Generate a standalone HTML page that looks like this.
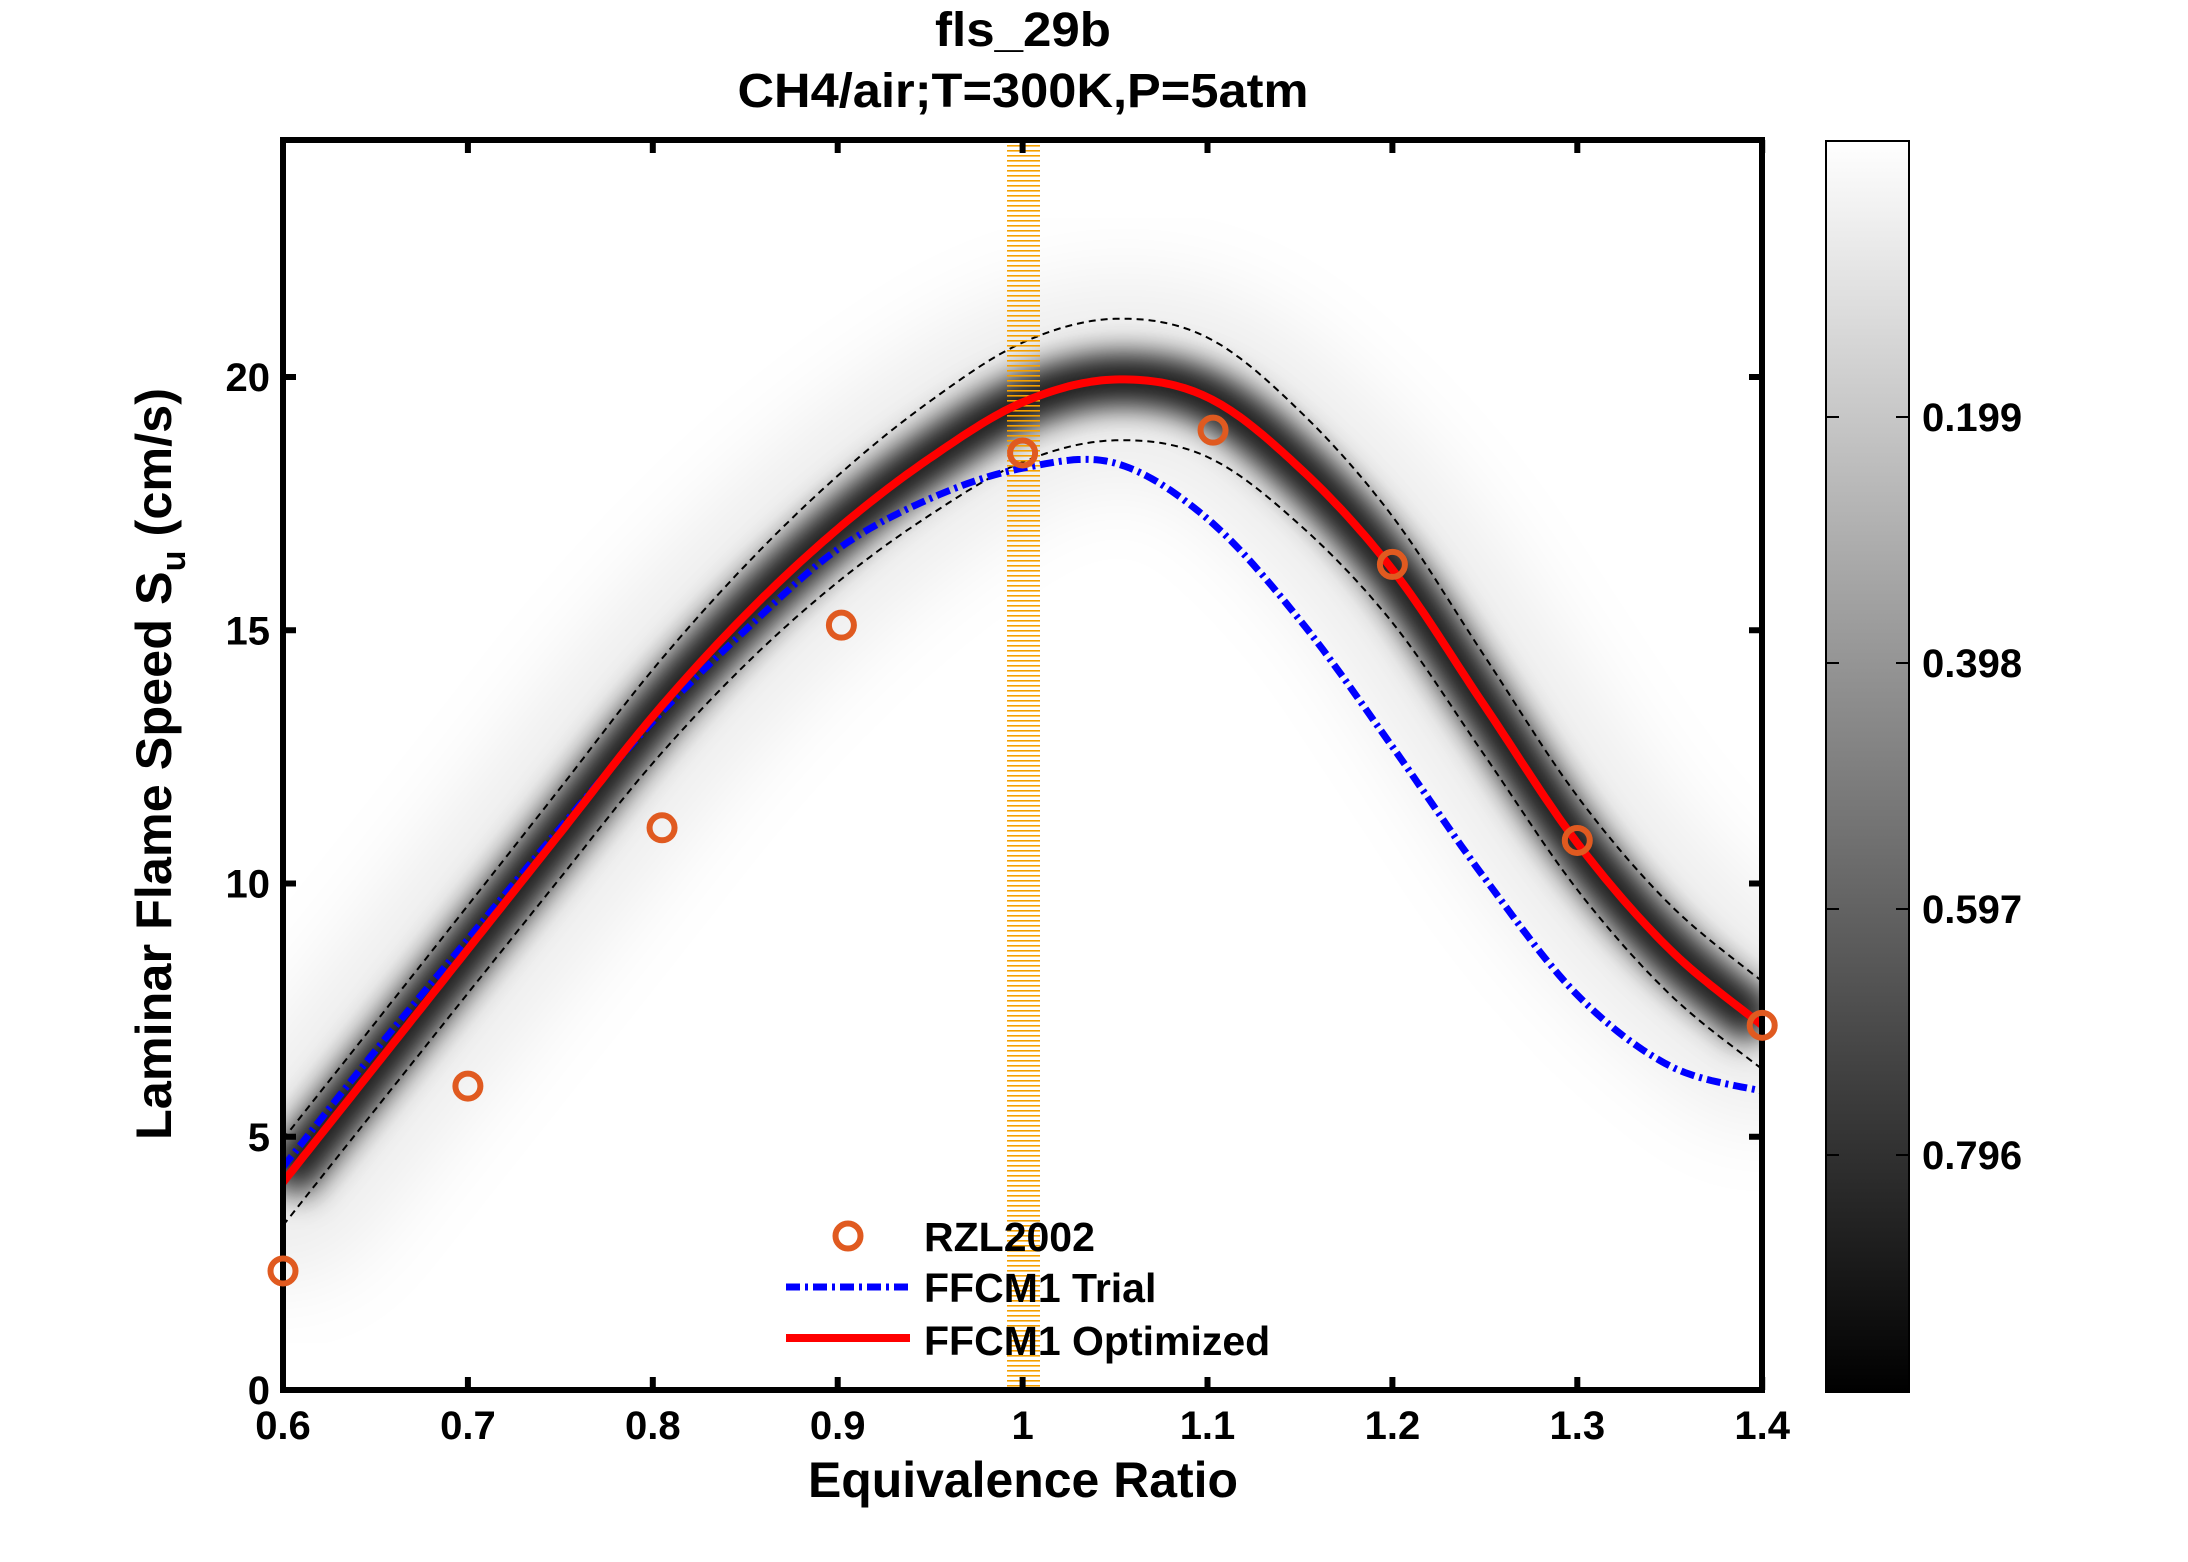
<!DOCTYPE html>
<html><head><meta charset="utf-8"><style>
html,body{margin:0;padding:0;background:#fff}
svg{display:block}
text{font-family:"Liberation Sans",Arial,sans-serif;font-weight:bold;fill:#000}
</style></head><body>
<svg id="s" width="2188" height="1562" viewBox="0 0 2188 1562" xmlns="http://www.w3.org/2000/svg">
<defs>
<clipPath id="ax"><rect x="283" y="140" width="1479" height="1250"/></clipPath>
<filter id="b1" x="-20%" y="-20%" width="140%" height="140%"><feGaussianBlur stdDeviation="16"/></filter>
<filter id="b2" x="-20%" y="-20%" width="140%" height="140%"><feGaussianBlur stdDeviation="40"/></filter>
<linearGradient id="cb" x1="0" y1="0" x2="0" y2="1"><stop offset="0" stop-color="#fff"/><stop offset="1" stop-color="#000"/></linearGradient>
<pattern id="stripe" width="10" height="5" patternUnits="userSpaceOnUse"><rect width="10" height="1.6" fill="#f5a000"/></pattern>
</defs>
<rect width="2188" height="1562" fill="#fff"/>
<g clip-path="url(#ax)" id="plot"></g>
<text x="1023" y="46" font-size="48" text-anchor="middle" textLength="176" lengthAdjust="spacingAndGlyphs">fls_29b</text>
<text x="1023" y="107" font-size="48" text-anchor="middle" textLength="571" lengthAdjust="spacingAndGlyphs">CH4/air;T=300K,P=5atm</text>
<g id="axes"></g>
<text x="1023" y="1497" font-size="50" text-anchor="middle" textLength="430" lengthAdjust="spacingAndGlyphs">Equivalence Ratio</text>
<text transform="translate(171,764) rotate(-90)" font-size="50" text-anchor="middle" textLength="752" lengthAdjust="spacingAndGlyphs">Laminar Flame Speed S<tspan font-size="34" dy="14">u</tspan><tspan dy="-14"> (cm/s)</tspan></text>
<!-- legend -->
<circle cx="848" cy="1236" r="12.5" fill="none" stroke="#e05a20" stroke-width="6"/>
<text x="924" y="1251" font-size="41">RZL2002</text>
<line x1="786" y1="1287" x2="910" y2="1287" stroke="#0000ff" stroke-width="7" stroke-dasharray="14,5,3,5"/>
<text x="924" y="1302" font-size="41">FFCM1 Trial</text>
<line x1="786" y1="1338" x2="910" y2="1338" stroke="#ff0000" stroke-width="8"/>
<text x="924" y="1355" font-size="41">FFCM1 Optimized</text>
<!-- colorbar -->
<rect x="1826" y="141" width="83" height="1251" fill="url(#cb)" stroke="#000" stroke-width="2"/>
<g id="cbt"></g>
</svg>
<script>
var NS="http://www.w3.org/2000/svg";
function X(v){return 283+(v-0.6)*1849;}
function Y(u){return 1390-u*50.65;}
function el(t,a,p){var e=document.createElementNS(NS,t);for(var k in a)e.setAttribute(k,a[k]);(p||document.getElementById('s')).appendChild(e);return e;}
function interp(pts){
  var out=[];for(var i=0;i<pts.length-1;i++){var p0=pts[Math.max(0,i-1)],p1=pts[i],p2=pts[i+1],p3=pts[Math.min(pts.length-1,i+2)];
  for(var t=0;t<1;t+=0.05){var t2=t*t,t3=t2*t;
   var f=function(a,b,c,d){return 0.5*((2*b)+(-a+c)*t+(2*a-5*b+4*c-d)*t2+(-a+3*b-3*c+d)*t3);};
   out.push([f(p0[0],p1[0],p2[0],p3[0]),f(p0[1],p1[1],p2[1],p3[1])]);}}
  out.push(pts[pts.length-1]);return out;}
function path(pts){return pts.map(function(p,i){return (i?'L':'M')+X(p[0]).toFixed(1)+','+Y(p[1]).toFixed(1);}).join('');}
var rv=[4.1,6.4,8.7,11.0,13.3,15.3,17.0,18.4,19.5,19.95,19.6,18.2,16.2,13.5,10.8,8.7,7.2];
var bv=[4.4,6.7,8.9,11.1,13.2,15.0,16.6,17.6,18.2,18.3,17.2,15.2,12.7,10.1,7.8,6.4,5.9];
var red=[],blue=[],up=[],lo=[];
for(var i=0;i<rv.length;i++){var v=0.6+i*0.05;
 var dl=0.85+0.35*Math.exp(-Math.pow((v-1.05)/0.2,2));
 red.push([v,rv[i]]);blue.push([v,bv[i]]);up.push([v,rv[i]+dl]);lo.push([v,rv[i]-dl]);}
var g=document.getElementById('plot');
var rp=path(interp(red));
el('path',{d:rp,fill:'none',stroke:'#000','stroke-opacity':'0.07','stroke-width':'200','stroke-linecap':'round',filter:'url(#b2)'},g);
el('path',{d:rp,fill:'none',stroke:'#000','stroke-opacity':'0.85','stroke-width':'50',filter:'url(#b1)'},g);
el('path',{d:rp,fill:'none',stroke:'#000','stroke-opacity':'0.6','stroke-width':'22',filter:'url(#b1)'},g);
el('path',{d:path(interp(up)),fill:'none',stroke:'#000','stroke-width':'2','stroke-dasharray':'7,5'},g);
el('path',{d:path(interp(lo)),fill:'none',stroke:'#000','stroke-width':'2','stroke-dasharray':'7,5'},g);
el('rect',{x:1007,y:140,width:33,height:1250,fill:'url(#stripe)'},g);
el('path',{d:path(interp(blue)),fill:'none',stroke:'#0000ff','stroke-width':'7','stroke-dasharray':'14,5,3,5'},g);
el('path',{d:rp,fill:'none',stroke:'#ff0000','stroke-width':'8'},g);
var d=[[0.6,2.35],[0.7,6.0],[0.805,11.1],[0.902,15.1],[1.0,18.5],[1.103,18.95],[1.2,16.3],[1.3,10.85],[1.4,7.2]];
d.forEach(function(p){el('circle',{cx:X(p[0]),cy:Y(p[1]),r:12.5,fill:'none',stroke:'#e05a20','stroke-width':6});});
var a=document.getElementById('axes');
el('rect',{x:283,y:140,width:1479,height:1250,fill:'none',stroke:'#000','stroke-width':6},a);
for(var i=0;i<=8;i++){var v=0.6+i*0.1,x=X(v);
 el('line',{x1:x,y1:1390,x2:x,y2:1377,stroke:'#000','stroke-width':6},a);
 el('line',{x1:x,y1:140,x2:x,y2:153,stroke:'#000','stroke-width':6},a);
 var t=el('text',{x:x,y:1439,'font-size':40,'text-anchor':'middle'},a);t.textContent=(i==4?'1':v.toFixed(1));}
for(var j=0;j<=4;j++){var u=j*5,y=Y(u);
 el('line',{x1:283,y1:y,x2:296,y2:y,stroke:'#000','stroke-width':6},a);
 el('line',{x1:1762,y1:y,x2:1749,y2:y,stroke:'#000','stroke-width':6},a);
 var t2=el('text',{x:270,y:y+14,'font-size':40,'text-anchor':'end'},a);t2.textContent=u;}
var cb=document.getElementById('cbt');
[['0.199',417],['0.398',663],['0.597',909],['0.796',1155]].forEach(function(q){
 el('line',{x1:1826,y1:q[1],x2:1839,y2:q[1],stroke:'#000','stroke-width':2},cb);
 el('line',{x1:1909,y1:q[1],x2:1896,y2:q[1],stroke:'#000','stroke-width':2},cb);
 var t=el('text',{x:1922,y:q[1]+14,'font-size':40},cb);t.textContent=q[0];});
</script>
</body></html>
